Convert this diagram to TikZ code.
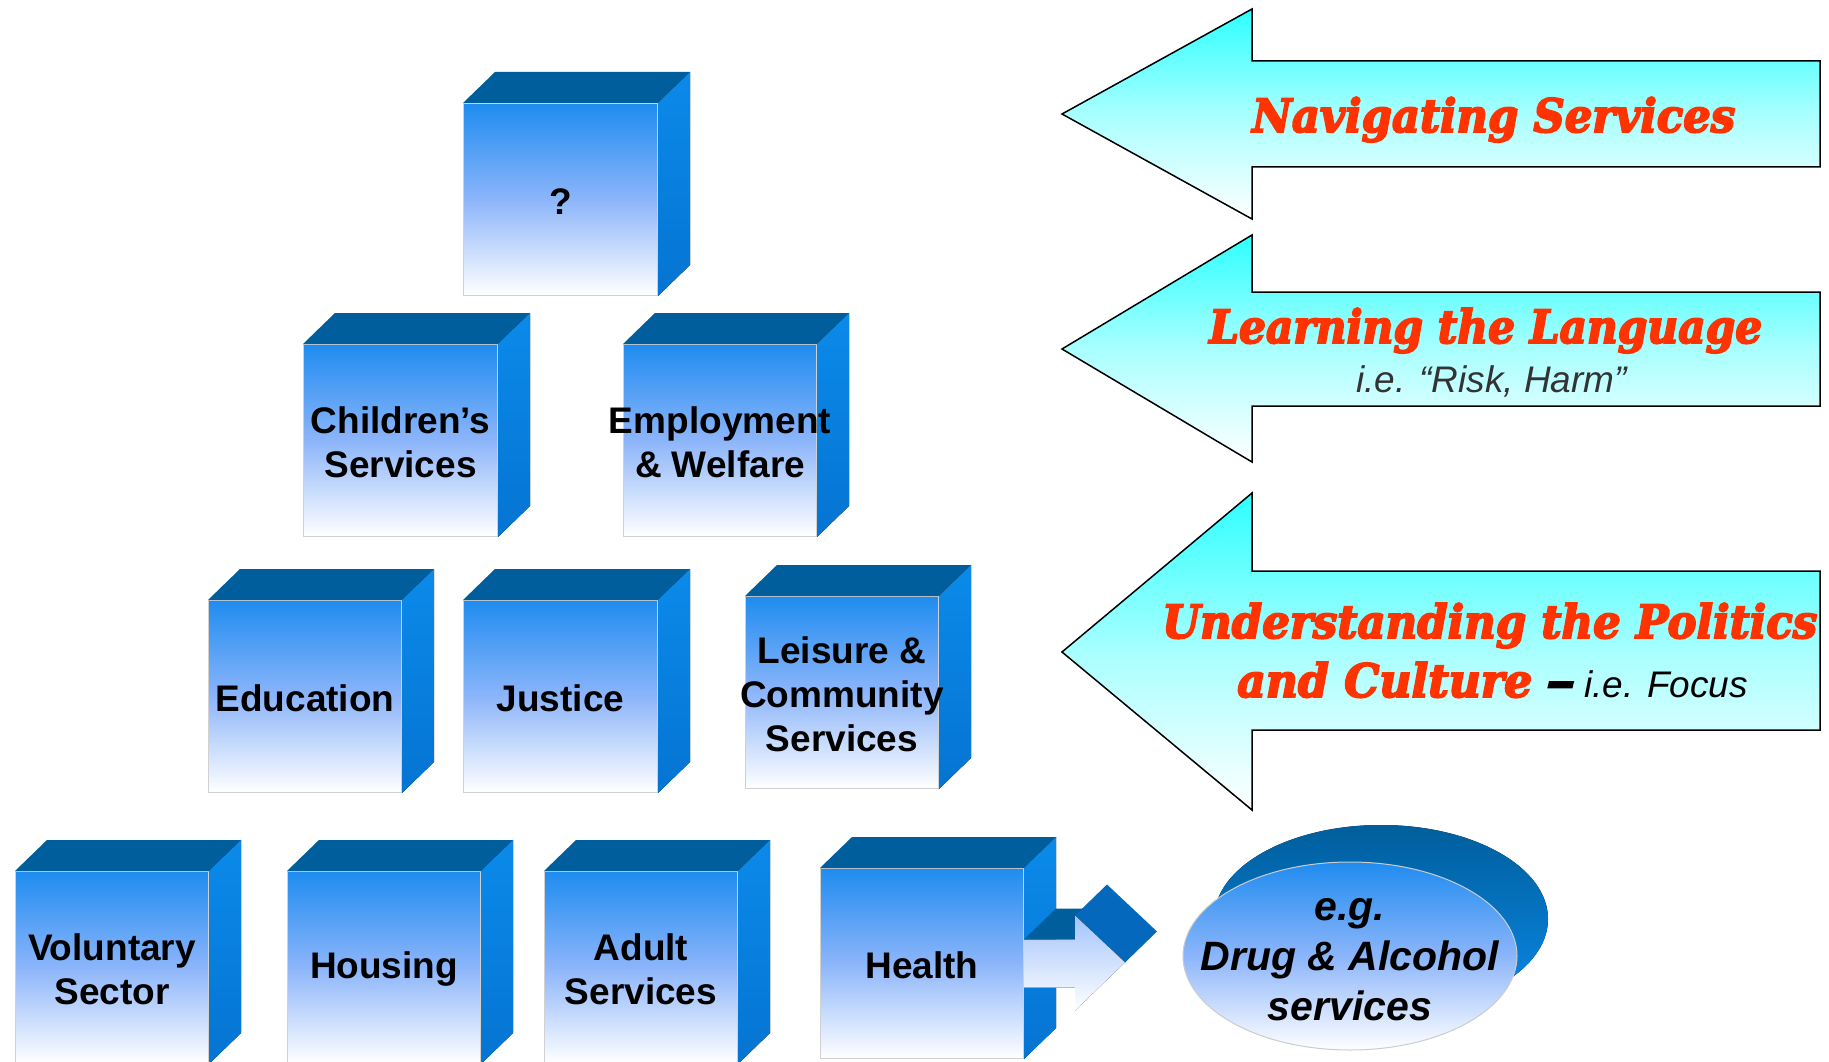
\documentclass[tikz,border=0pt]{standalone}
\usepackage{graphicx}
\usepackage{fontspec}
\setmainfont{Liberation Sans}
\newfontfamily\cooper{DejaVu Serif}[FakeBold=4]
\usetikzlibrary{calc,shapes.geometric}
\definecolor{fronttop}{HTML}{1F8CF0}
\definecolor{frontmid}{HTML}{8CB5FA}
\definecolor{topc}{HTML}{005E9C}
\definecolor{sidetop}{HTML}{0B8AEA}
\definecolor{sidebot}{HTML}{0574D2}
\definecolor{redtxt}{HTML}{FF3300}
\definecolor{cyantop}{HTML}{2EFFFF}
\definecolor{cyanmid}{HTML}{A8FFFF}
\definecolor{graytxt}{HTML}{333333}
\tikzset{
  frontface/.style={rectangle, draw=black!18, line width=1pt, top color=fronttop, bottom color=white, middle color=frontmid, inner sep=0pt},
  topface/.style={fill=topc},
  sideface/.style={top color=sidetop, bottom color=sidebot},
  cubelbl/.style={font=\fontsize{37}{44}\selectfont\bfseries, align=center, inner sep=0pt, text=black},
  bigarrow/.style={draw=black, line width=1.5pt, line join=miter, top color=cyantop, bottom color=white, middle color=cyanmid},
  redlbl/.style={font=\fontsize{46}{50}\selectfont\cooper\bfseries\itshape, text=redtxt, inner sep=0pt},
  sublbl/.style={font=\fontsize{37}{42}\selectfont\itshape, inner sep=0pt},
  elllbl/.style={font=\fontsize{41}{50}\selectfont\bfseries\itshape, align=center, inner sep=0pt}
}
\newcommand\cubebox[6]{%
  \node[frontface, minimum width=#4, minimum height=#5, anchor=north west] (#1) at (#2,#3) {};
  \fill[topface] (#1.north west) -- ++(32,-31) -- ($(#1.north east)+(32,-31)$) -- (#1.north east) -- cycle;
  \fill[sideface] (#1.north east) -- ++(32,-31) -- ($(#1.south east)+(32,-31)$) -- (#1.south east) -- cycle;
  \node[cubelbl] (#1-t) at ($(#1.center)+(0,2)$) {#6};
}
\begin{document}
\begin{tikzpicture}[x=1pt, y=-1pt]
\clip (0,0) rectangle (1829,1062);
\fill[white] (0,0) rectangle (1829,1062);

% cubes
\cubebox{q}{463}{103}{194pt}{192pt}{?}
\cubebox{child}{303}{344}{194pt}{192pt}{Children’s\\Services}
\cubebox{empl}{623}{344}{193pt}{192pt}{Employment\\\& Welfare}
\cubebox{educ}{208}{600}{193pt}{192pt}{Education}
\cubebox{just}{463}{600}{194pt}{192pt}{Justice}
\cubebox{leis}{745}{596}{193pt}{192pt}{Leisure \&\\Community\\Services}
\cubebox{volu}{15}{871}{193pt}{192pt}{Voluntary\\Sector}
\cubebox{hous}{287}{871}{193pt}{192pt}{Housing}
\cubebox{adul}{544}{871}{193pt}{192pt}{Adult\\Services}
\cubebox{heal}{820}{868}{203pt}{190pt}{Health}

% ellipse
\fill[top color=topc, bottom color=sidetop] (1381,919) ellipse [x radius=167pt, y radius=94pt];
\node[ellipse, minimum width=334pt, minimum height=188pt, inner sep=0pt, draw=black!20, line width=1pt,
      top color=fronttop, bottom color=white, middle color=frontmid] (ell) at (1350,956) {};
\node[elllbl] (ell-t) at (1350,960) {e.g.\\Drug \& Alcohol\\services};

% health block arrow
\begin{scope}[shift={(heal.east)}]
  \fill[topc] (0,-24) -- (32,-55) -- (83,-55) -- (51,-24) -- cycle;
  \fill[fill=sidebot!90!black] (51,-48) -- (83,-79) -- (133,-32) -- (101,-1) -- cycle;
  \fill[top color=frontmid!80!white, bottom color=white] (0,-24) -- (51,-24) -- (51,-48) -- (101,-1) -- (51,47) -- (51,24) -- (0,24) -- cycle;
\end{scope}

% big arrows
\draw[bigarrow] (1062,114) -- (1252,9) -- (1252,61) -- (1820,61) -- (1820,167) -- (1252,167) -- (1252,219) -- cycle;
\draw[bigarrow] (1062,349) -- (1252,235) -- (1252,292) -- (1820,292) -- (1820,406) -- (1252,406) -- (1252,462) -- cycle;
\draw[bigarrow] (1062,652) -- (1252,493) -- (1252,571) -- (1820,571) -- (1820,730) -- (1252,730) -- (1252,810) -- cycle;

\node[redlbl, anchor=base west] (a1) at (1252,132) {\resizebox{483pt}{\height}{Navigating Services}};
\node[redlbl, anchor=base west] (a2) at (1209,343) {\resizebox{553pt}{\height}{Learning the Language}};
\node[sublbl, text=graytxt, anchor=base west] (a2s) at (1356,392) {i.e. “Risk, Harm”};
\node[redlbl, anchor=base west] (a3) at (1162,638) {\resizebox{655pt}{\height}{Understanding the Politics}};
\node[redlbl, anchor=base west] (a3b) at (1237,697) {\resizebox{295pt}{\height}{and Culture}};
\node[redlbl, text=black, anchor=base west] (a3d) at (1546,697) {\resizebox{29pt}{\height}{–}};
\node[sublbl, text=black, anchor=base west] (a3s) at (1584,697) {i.e. Focus};
\end{tikzpicture}
\end{document}
